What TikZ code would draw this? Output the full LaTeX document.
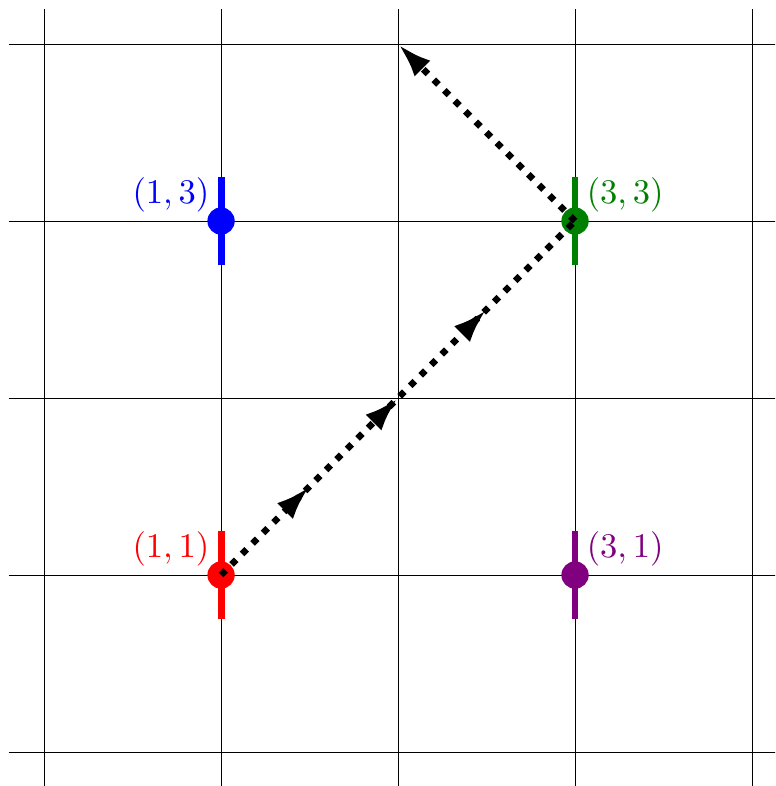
\documentclass[tikz,border=0pt]{standalone}
\usetikzlibrary{arrows.meta,decorations.markings}
\definecolor{mypurple}{RGB}{128,0,128}
\definecolor{mygreen}{RGB}{0,128,0}
\begin{document}
\begin{tikzpicture}[x=1.8cm,y=1.8cm,
  gridline/.style={line width=0.28pt,black},
  barline/.style={line width=2pt},
  dotnode/.style={circle,fill=#1,draw=none,inner sep=0pt,minimum size=7.9pt},
  lbl/.style={inner sep=0pt,text=#1},
  pathline/.style={line width=1.9pt,dash pattern=on 1.9pt off 2.4pt},
  tipstyle/.style={}]
\useasboundingbox (-0.249,-0.192) rectangle (4.130,4.249);
\clip (-0.249,-0.192) rectangle (4.130,4.249);
% grid
\foreach \i in {0,...,4}{
  \draw[gridline] (\i,-0.2) -- (\i,4.2);
  \draw[gridline] (-0.2,\i) -- (4.2,\i);
}
% bars
\draw[barline,red] (1,0.75) -- (1,1.25);
\draw[barline,blue] (1,2.75) -- (1,3.25);
\draw[barline,mygreen] (3,2.75) -- (3,3.25);
\draw[barline,mypurple] (3,0.75) -- (3,1.25);
% points
\node[dotnode=red] (p11) at (1,1) {};
\node[dotnode=blue] (p13) at (1,3) {};
\node[dotnode=mygreen] (p33) at (3,3) {};
\node[dotnode=mypurple] (p31) at (3,1) {};
\coordinate (c24) at (2,4);
% labels
\node[lbl=red,anchor=south east] (l11) at ([shift={(-3.2pt,2.3pt)}]p11.center) {$(1,1)$};
\node[lbl=blue,anchor=south east] (l13) at ([shift={(-3.2pt,2.3pt)}]p13.center) {$(1,3)$};
\node[lbl=mygreen,anchor=south west] (l33) at ([shift={(3.2pt,2.3pt)}]p33.center) {$(3,3)$};
\node[lbl=mypurple,anchor=south west] (l31) at ([shift={(3.2pt,2.3pt)}]p31.center) {$(3,1)$};
% path
\draw[pathline,postaction={decorate},
  decoration={markings,
    mark=at position 0.25 with {\arrow{Latex[length=10pt,width=6.5pt]}},
    mark=at position 0.5 with {\arrow{Latex[length=10pt,width=6.5pt]}},
    mark=at position 0.75 with {\arrow{Latex[length=10pt,width=6.5pt]}}}]
  (p11.center) -- (p33.center);
\draw[pathline,-{Latex[length=10pt,width=6.5pt]}] (p33.center) -- (c24);
\end{tikzpicture}
\end{document}
